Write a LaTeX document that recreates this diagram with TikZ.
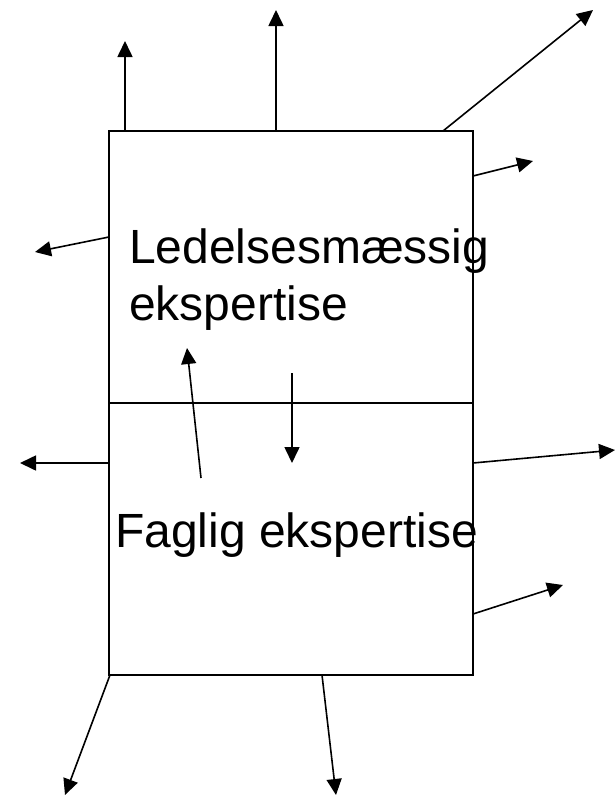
\documentclass[tikz,border=0pt]{standalone}
\usepackage{fontspec}
\setmainfont{Liberation Sans}
\usetikzlibrary{arrows.meta,positioning}

\tikzset{every node/.style={inner sep=0pt, outer sep=0pt}}

\begin{document}
\begin{tikzpicture}[x=1pt, y=-1pt,
			part/.style={draw, line width=1.8pt, minimum width=364pt, minimum height=272pt},
			flow/.style={line width=1.6pt, -{Triangle[length=16pt,width=15pt]}},
			txt/.style={font=\fontsize{48}{57}\selectfont, align=left},
			]
			\useasboundingbox (0,0) rectangle (615,796);
			
			% The box in two parts
			\node[part, anchor=north west] (upper) at (109,131) {};
			\node[part, below=0pt of upper] (lower) {};
			
			% Texts (base = last line)
			\node[txt, anchor=base west] (lead) at (129,320) {Ledelsesmæssig\\ekspertise};
			\node[txt, anchor=base west] (fag) at (115,547) {Faglig ekspertise};
			
			% Arrows (start and end points)
			\foreach \n/\sx/\sy/\ex/\ey in {1/125/131/125/41, 2/276/131/276/10, 3/443/131/593/10,
				4/473/176/533/161, 5/109/237/35/252, 6/292/373/292/463, 7/201/478/187/348,
				8/109/463/20/463, 9/473/463/615/450, 10/473/614/563/585,
				11/110/675/65/795, 12/322/675/336/795} {
				\coordinate (s\n) at (\sx,\sy);
				\coordinate (e\n) at (\ex,\ey);
				\draw[flow] (s\n) -- (e\n);
			}
			
\end{tikzpicture}
\end{document}
